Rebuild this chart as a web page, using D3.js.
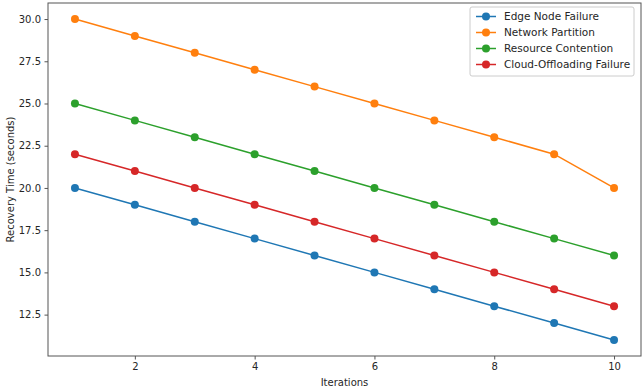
<!DOCTYPE html>
<html>
<head>
<meta charset="utf-8">
<script src="https://cdn.jsdelivr.net/npm/d3@7"></script>
<style>
  body { margin: 0; background: #fff; }
  text { font-family: "DejaVu Sans", sans-serif; }
</style>
</head>
<body>
<div id="chart"></div>
<script>
// Data
const iterations = [1, 2, 3, 4, 5, 6, 7, 8, 9, 10];
const edgeNodeFailure = [20, 19, 18, 17, 16, 15, 14, 13, 12, 11];
const networkPartition = [30, 29, 28, 27, 26, 25, 24, 23, 22, 20];
const resourceContention = [25, 24, 23, 22, 21, 20, 19, 18, 17, 16];
const cloudOffloadingFailure = [22, 21, 20, 19, 18, 17, 16, 15, 14, 13];
const seriesNames = ["Edge Node Failure", "Network Partition", "Resource Contention", "Cloud-Offloading Failure"];
const xTicks = [2, 4, 6, 8, 10];
const yTicks = [12.5, 15.0, 17.5, 20.0, 22.5, 25.0, 27.5, 30.0];

const colors = ["#1f77b4", "#ff7f0e", "#2ca02c", "#d62728"];
const seriesValues = [edgeNodeFailure, networkPartition, resourceContention, cloudOffloadingFailure];

const width = 644, height = 389;
const margin = { top: 3, right: 3, bottom: 33, left: 48 };
const w = width - margin.left - margin.right;
const h = height - margin.top - margin.bottom;

const svg = d3.select("#chart").append("svg")
    .attr("width", width)
    .attr("height", height);

const g = svg.append("g")
    .attr("transform", `translate(${margin.left}, ${margin.top})`);

// Scales with matplotlib-like 5% padding
const xScale = d3.scaleLinear().domain([0.55, 10.45]).range([0, w]);
const yScale = d3.scaleLinear().domain([10.05, 30.95]).range([h, 0]);

// Axes
const xAxis = g.append("g")
    .attr("transform", `translate(0, ${h})`)
    .call(d3.axisBottom(xScale).tickValues(xTicks).tickFormat(d3.format("d")).tickSize(3.5).tickPadding(3.5));
const yAxis = g.append("g")
    .call(d3.axisLeft(yScale).tickValues(yTicks).tickFormat(d3.format(".1f")).tickSize(3.5).tickPadding(3.5));

[xAxis, yAxis].forEach(a => {
    a.select(".domain").remove();
    a.selectAll("text").attr("fill", "#262626").style("font-size", "10px");
    a.selectAll("line").attr("stroke", "#555");
});

// Frame
g.append("rect")
    .attr("width", w).attr("height", h)
    .attr("fill", "none")
    .attr("stroke", "#555")
    .attr("stroke-width", 1);

// Lines and markers
const line = d3.line()
    .x((d, i) => xScale(iterations[i]))
    .y(d => yScale(d));

seriesValues.forEach((vals, k) => {
    g.append("path")
        .attr("d", line(vals))
        .attr("fill", "none")
        .attr("stroke", colors[k])
        .attr("stroke-width", 1.5);
    g.selectAll(".dot" + k)
        .data(vals)
        .enter()
        .append("circle")
        .attr("cx", (d, i) => xScale(iterations[i]))
        .attr("cy", d => yScale(d))
        .attr("r", 4)
        .attr("fill", colors[k]);
});

// Axis labels
svg.append("text")
    .attr("x", margin.left + w / 2)
    .attr("y", height - 3)
    .attr("text-anchor", "middle")
    .style("font-size", "10px")
    .attr("fill", "#262626")
    .text("Iterations");

svg.append("text")
    .attr("transform", `translate(11, ${margin.top + h / 2}) rotate(-90)`)
    .attr("text-anchor", "middle")
    .attr("dominant-baseline", "middle")
    .style("font-size", "10px")
    .attr("fill", "#262626")
    .text("Recovery Time (seconds)");

// Legend
const legend = g.append("g").attr("transform", `translate(${w - 171}, 4)`);
legend.append("rect")
    .attr("width", 164).attr("height", 69)
    .attr("rx", 2)
    .attr("fill", "#fff")
    .attr("fill-opacity", 0.8)
    .attr("stroke", "#ccc");

seriesNames.forEach((name, k) => {
    const row = legend.append("g").attr("transform", `translate(6, ${9.5 + k * 16})`);
    row.append("line")
        .attr("x1", 0).attr("x2", 20)
        .attr("stroke", colors[k]).attr("stroke-width", 1.5);
    row.append("circle")
        .attr("cx", 10).attr("r", 4).attr("fill", colors[k]);
    row.append("text")
        .attr("x", 28)
        .attr("dy", "0.35em")
        .style("font-size", "10.5px")
        .attr("fill", "#262626")
        .text(name);
});
</script>
</body>
</html>
